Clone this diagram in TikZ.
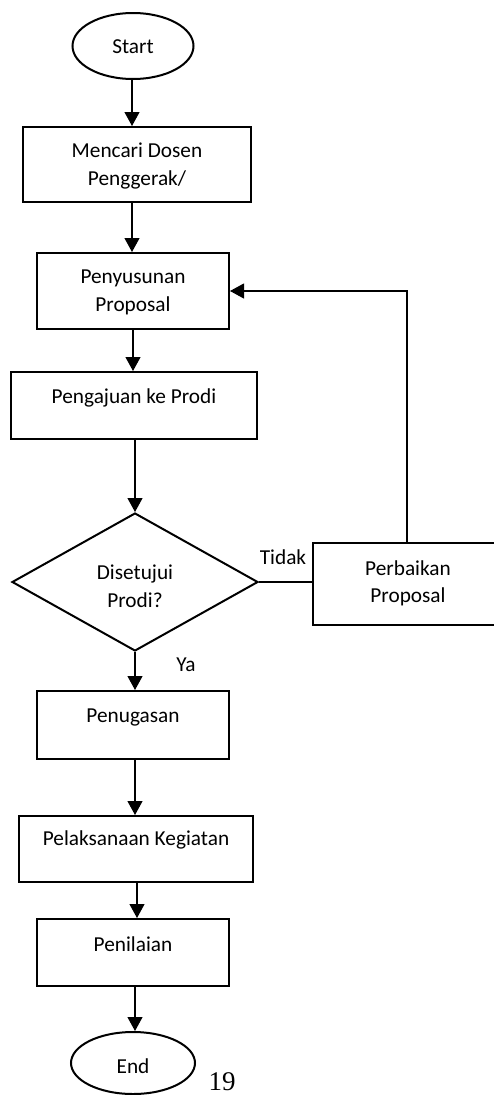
\documentclass[tikz,border=0pt]{standalone}
\usepackage{fontspec}
\setmainfont{Carlito}
\newfontfamily\pagenumfont{Liberation Serif}
\usetikzlibrary{shapes.geometric,arrows.meta}
\begin{document}
\begin{tikzpicture}[x=1pt,y=-1pt,
  box/.style={draw,line width=2pt,rectangle,inner sep=0pt},
  term/.style={draw,line width=2pt,ellipse,inner sep=0pt},
  dec/.style={draw,line width=2pt,diamond,inner sep=0pt},
  txt/.style={inner sep=0pt,align=center,font=\fontsize{21.3}{27.5}\selectfont},
  conn/.style={line width=1.1pt},
  arr/.style={conn,-{Triangle[length=14pt,width=15pt]}}]
\useasboundingbox (0,0) rectangle (494,1095);
% shapes
\node[term,minimum width=121pt,minimum height=66pt] (start) at (133,46) {};
\node[box,minimum width=228pt,minimum height=75pt] (b1) at (137,164.5) {};
\node[box,minimum width=192pt,minimum height=76pt] (b2) at (133,291) {};
\node[box,minimum width=246pt,minimum height=67pt] (b3) at (134,405.5) {};
\node[dec,minimum width=246pt,minimum height=138pt] (d) at (135,582) {};
\node[box,minimum width=188pt,minimum height=82pt] (fix) at (407,584) {};
\node[box,minimum width=192pt,minimum height=68pt] (b4) at (133,725) {};
\node[box,minimum width=234pt,minimum height=66pt] (b5) at (136,849) {};
\node[box,minimum width=192pt,minimum height=67pt] (b6) at (133,952.5) {};
\node[term,minimum width=124pt,minimum height=62pt] (end) at (133,1063) {};
% texts
\node[txt] (tstart) at (133,47) {Start};
\node[txt] (t1) at (137,166) {Mencari Dosen\\Penggerak/};
\node[txt] (t2) at (133,292.5) {Penyusunan\\Proposal};
\node[txt] (t3) at (134,398) {Pengajuan ke Prodi};
\node[txt] (td) at (135,586) {Disetujui\\Prodi?};
\node[txt] (tfix) at (408,583.5) {Perbaikan\\Proposal};
\node[txt] (t4) at (133,717) {Penugasan};
\node[txt] (t5) at (136,840) {Pelaksanaan Kegiatan};
\node[txt] (t6) at (133,944) {Penilaian};
\node[txt] (tend) at (133,1066) {End};
\node[txt] (ltidak) at (283,557) {Tidak};
\node[txt] (lya) at (186,665) {Ya};
\node[inner sep=0pt,anchor=base,font=\pagenumfont\fontsize{27}{30}\selectfont] (pg) at (222,1090) {19};
% connectors
\draw[arr] (132,79) coordinate (s0) -- (s0 |- b1.north);
\draw[arr] (132,202) coordinate (s1) -- (s1 |- b2.north);
\draw[arr] (133,329) coordinate (s2) -- (s2 |- b3.north);
\draw[arr] (b3.south -| d.north) -- (d.north);
\draw[conn] (d.east) -- (d.east -| fix.west);
\draw[arr] (fix.north) -- (fix.north |- b2.east) -- (b2.east);
\draw[arr] (d.south) -- (d.south |- b4.north);
\draw[arr] (135,759) coordinate (s4) -- (s4 |- b5.north);
\draw[arr] (137,882) coordinate (s5) -- (s5 |- b6.north);
\draw[arr] (135,986) coordinate (s6) -- (s6 |- end.north);
\end{tikzpicture}
\end{document}
